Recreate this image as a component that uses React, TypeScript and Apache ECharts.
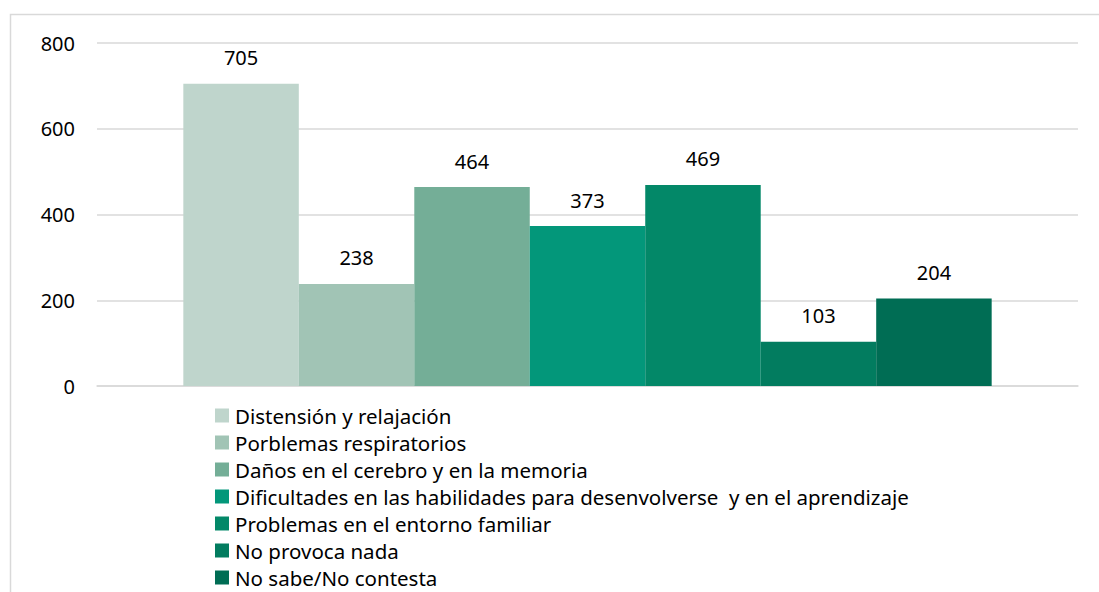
import React, { useEffect, useRef } from "react";
import * as echarts from "echarts";

const seriesNames = [
  "Distensión y relajación",
  "Porblemas respiratorios",
  "Daños en el cerebro y en la memoria",
  "Dificultades en las habilidades para desenvolverse  y en el aprendizaje",
  "Problemas en el entorno familiar",
  "No provoca nada",
  "No sabe/No contesta",
];
const seriesValues = [705, 238, 464, 373, 469, 103, 204];
const seriesColors = ["#BFD5CC", "#A1C4B5", "#74AE97", "#03977A", "#038868", "#027C5F", "#006D54"];
const categories = [""];
const yTicks = { min: 0, max: 800, interval: 200 };

const FONT = "'Noto Sans', 'Open Sans', sans-serif";

export default function App() {
  const ref = useRef<HTMLDivElement>(null);
  useEffect(() => {
    if (!ref.current) return;
    const chart = echarts.init(ref.current, null, { renderer: "svg" });
    chart.setOption({
      animation: false,
      backgroundColor: "#ffffff",
      textStyle: { fontFamily: FONT },
      graphic: [
        {
          type: "rect",
          shape: { x: 10.5, y: 14.5, width: 1100, height: 600 },
          style: { fill: "none", stroke: "#d9d9d9", lineWidth: 1.5 },
          silent: true,
        },
      ],
      grid: { left: 97, right: 21, top: 43, bottom: 206 },
      legend: {
        orient: "vertical",
        left: 215,
        top: 405,
        height: 300,
        padding: 0,
        icon: "rect",
        itemWidth: 14,
        itemHeight: 14,
        itemGap: 6,
        textStyle: { fontSize: 20.5, color: "#000", fontFamily: FONT, lineHeight: 21, padding: [0, 0, 0, 1] },
        data: seriesNames,
      },
      xAxis: {
        type: "category",
        data: categories,
        axisLine: { show: true, lineStyle: { color: "#d9d9d9", width: 1.5 } },
        axisTick: { show: false },
        axisLabel: { show: false },
      },
      yAxis: {
        type: "value",
        min: yTicks.min,
        max: yTicks.max,
        interval: yTicks.interval,
        axisLine: { show: false },
        axisTick: { show: false },
        axisLabel: { fontSize: 20, color: "#000", margin: 22, fontFamily: FONT },
        splitLine: { lineStyle: { color: "#d9d9d9", width: 1.5 } },
      },
      series: seriesNames.map((name, i) => ({
        name,
        type: "bar",
        data: [seriesValues[i]],
        barGap: "0%",
        barCategoryGap: "17.6%",
        itemStyle: { color: seriesColors[i] },
        label: {
          show: true,
          position: "top",
          distance: 16,
          fontSize: 20,
          color: "#000",
          fontFamily: FONT,
        },
      })),
    });
    return () => chart.dispose();
  }, []);
  return (
    <div
      ref={ref}
      style={{ position: "absolute", left: 0, top: 0, width: 1099, height: 592 }}
    />
  );
}
